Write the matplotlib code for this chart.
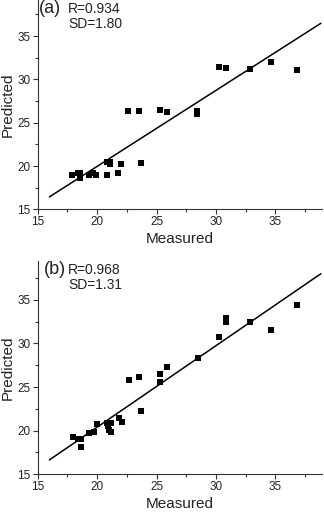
import matplotlib
matplotlib.use('Agg')
import matplotlib.pyplot as plt
from matplotlib.ticker import MultipleLocator

plt.rcParams['font.family'] = ['Liberation Sans', 'DejaVu Sans']

# panel (a)
measured_a = [17.86, 18.36, 18.55, 18.55, 19.31, 19.67, 19.90, 20.80, 20.85, 21.08,
              21.08, 21.77, 22.00, 22.61, 23.51, 23.66, 25.25, 25.87, 28.41, 28.41,
              30.21, 30.82, 32.84, 34.60, 36.85]
predicted_a = [18.97, 19.16, 19.16, 18.66, 19.00, 19.20, 18.95, 20.43, 19.00, 20.43,
               20.24, 19.20, 20.27, 26.30, 26.33, 20.38, 26.48, 26.18, 26.37, 25.95,
               31.45, 31.34, 31.22, 32.03, 31.12]
fit_a = (2.40, 0.878)  # intercept, slope
label_a = '(a)'
stats_a = 'R=0.934\nSD=1.80'

# panel (b)
measured_b = [17.94, 18.41, 18.64, 18.61, 19.34, 19.76, 19.96, 20.85, 20.90, 20.97,
              21.16, 21.13, 21.83, 22.06, 22.65, 23.51, 23.71, 25.28, 25.28, 25.89,
              28.50, 30.24, 30.85, 30.85, 32.87, 34.66, 36.85]
predicted_b = [19.31, 19.02, 19.02, 18.16, 19.72, 19.85, 20.73, 20.84, 20.50, 20.07,
               20.90, 19.88, 21.41, 21.03, 25.80, 26.15, 22.27, 26.53, 25.61, 27.29,
               28.35, 30.73, 32.86, 32.48, 32.48, 31.56, 34.39]
fit_b = (1.72, 0.934)
label_b = '(b)'
stats_b = 'R=0.968\nSD=1.31'

line_x = [16.0, 38.8]

fig = plt.figure(figsize=(3.24, 5.12), dpi=100)
ax1 = fig.add_axes([0.1164, 0.5912, 0.877, 0.4088])
ax2 = fig.add_axes([0.1164, 0.0736, 0.877, 0.4166])


def draw_panel(ax, xs, ys, fit, tag, stats, ytop, tag_x):
    ax.plot(xs, ys, 's', color='black', ms=3.7, mew=0)
    ly = [fit[0] + fit[1] * x for x in line_x]
    ax.plot(line_x, ly, color='black', lw=1.1)
    ax.set_xlim(15, 38.9)
    ax.set_ylim(15, ytop)
    ax.xaxis.set_major_locator(MultipleLocator(5))
    ax.xaxis.set_minor_locator(MultipleLocator(2.5))
    ax.yaxis.set_major_locator(MultipleLocator(5))
    ax.yaxis.set_minor_locator(MultipleLocator(2.5))
    for s in ['top', 'right']:
        ax.spines[s].set_visible(False)
    for s in ['left', 'bottom']:
        ax.spines[s].set_linewidth(0.8)
        ax.spines[s].set_color('#333333')
    ax.tick_params(which='major', direction='out', length=3.5, width=0.8,
                   labelsize=8.5, pad=1.5, colors='#333333', labelcolor='#222222')
    ax.tick_params(which='minor', direction='out', length=2, width=0.8,
                   colors='#333333')
    ax.set_xlabel('Measured', fontsize=11, labelpad=3, color='#222222')
    ax.set_ylabel('Predicted', fontsize=11, labelpad=2, color='#222222')
    ax.text(tag_x, 1.0, tag, transform=ax.transAxes, fontsize=13,
            va='top', ha='left', color='#222222')
    ax.text(0.107, 0.99, stats, transform=ax.transAxes, fontsize=10,
            va='top', ha='left', linespacing=1.1, color='#222222')


draw_panel(ax1, measured_a, predicted_a, fit_a, label_a, stats_a, 39.17, 0.005)
draw_panel(ax2, measured_b, predicted_b, fit_b, label_b, stats_b, 39.43, 0.02)

fig.savefig('out.png', dpi=100)
